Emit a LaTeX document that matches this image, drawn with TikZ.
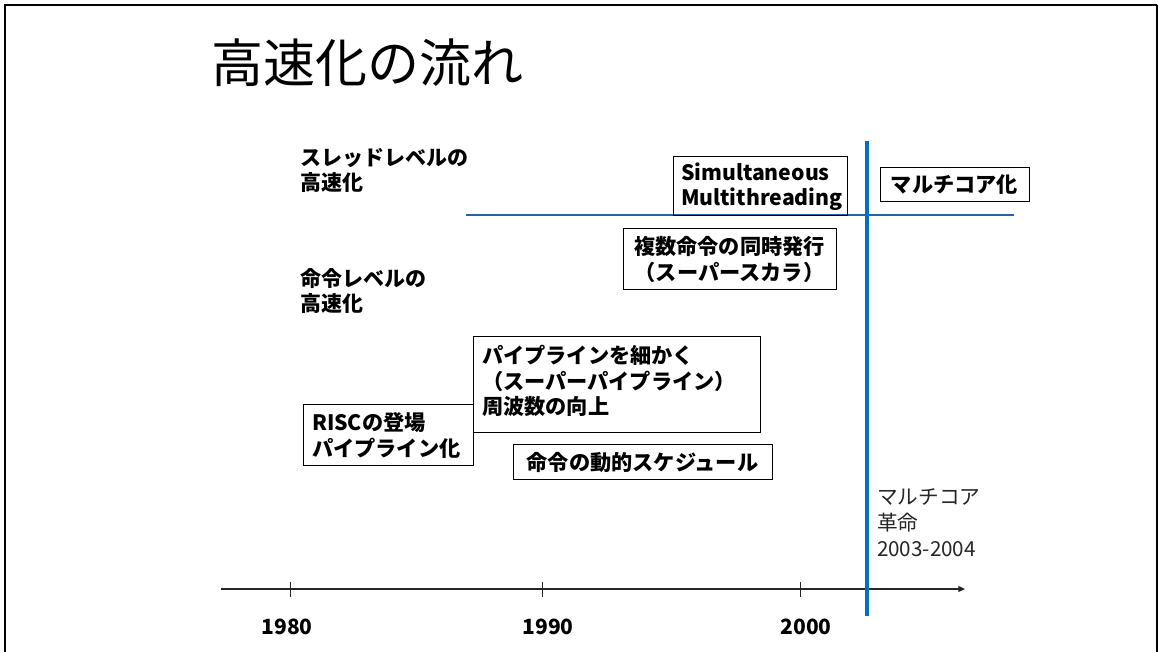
\documentclass[tikz,border=0pt]{standalone}
\usepackage{fontspec}
\setmainfont{Noto Sans CJK JP}
\usetikzlibrary{arrows.meta}
\definecolor{vblue}{RGB}{0,112,192}
\definecolor{hblue}{RGB}{38,96,176}
\definecolor{txtgray}{RGB}{38,38,38}
\newcommand{\boxfont}{\fontsize{15.9}{19}\selectfont\bfseries}
\newcommand{\labfont}{\fontsize{15.75}{18.75}\selectfont\bfseries}
\newcommand{\notefont}{\fontsize{15.5}{19.5}\selectfont}
\newcommand{\titlefont}{\fontsize{39}{46}\selectfont}
\tikzset{
  every node/.style={inner sep=0pt, outer sep=0pt},
  tbox/.style={draw, line width=0.75pt, font=\boxfont, align=left},
  cbox/.style={draw, line width=0.75pt, font=\boxfont, align=center},
  lvl/.style={font=\labfont, align=left, anchor=west},
  yearlab/.style={font=\labfont},
  axisline/.style={line width=0.9pt, draw=black!85},
  tickline/.style={line width=0.6pt, draw=black!85},
}
\begin{document}
\begin{tikzpicture}[x=0.75pt, y=-0.75pt]
\useasboundingbox (0,0) rectangle (1158,652);
% frame
\coordinate (fbl) at (5,652);
\coordinate (ftl) at (5,5);
\coordinate (ftr) at (1157,5);
\coordinate (fbr) at (1157,652);
\draw[line width=1.8pt] (fbl) -- (ftl) -- (ftr);
\draw[line width=0.9pt] (ftr) -- (fbr);
% title
\node[font=\titlefont, anchor=base west] (title) at (211,83) {高速化の流れ};
% level labels
\node[lvl] (thread) at (300,170) {スレッドレベルの\\高速化};
\node[lvl] (inst) at (300,291.5) {命令レベルの\\高速化};
% separator line
\coordinate (h0) at (466,215);
\coordinate (h1) at (1014,215);
\draw[hblue, line width=1.1pt] (h0) -- (h1);
% boxes
\node[tbox, inner xsep=6pt, text width=118.5pt, minimum height=44.25pt] (smt) at (760,186.5) {Simultaneous\\Multithreading};
\node[cbox, minimum width=111.75pt, minimum height=25.5pt] (mc) at (954.5,185) {マルチコア化};
\node[cbox, minimum width=159.75pt, minimum height=45.75pt] (ss) at (729.5,259.5) {複数命令の同時発行\\（スーパースカラ）};
\node[tbox, inner xsep=6.75pt, text width=201.75pt, minimum height=72pt] (sp) at (616.5,385) {パイプラインを細かく\\（スーパーパイプライン）\\周波数の向上\\[-11.5pt]\mbox{}};
\node[tbox, inner xsep=6.75pt, text width=114pt, minimum height=45.75pt] (risc) at (388,435.5) {RISCの登場\\パイプライン化};
\node[cbox, minimum width=194.25pt, minimum height=26.25pt] (dyn) at (642.5,462.5) {命令の動的スケジュール};
% axis
\coordinate (ax0) at (221,589);
\coordinate (ax1) at (965,589);
\draw[axisline, -{Triangle[length=5pt, width=4.5pt]}] (ax0) -- (ax1);
\foreach \t/\x in {a/290, b/542, c/800}{
  \coordinate (t\t0) at (\x,582);
  \coordinate (t\t1) at (\x,597);
  \draw[tickline] (t\t0) -- (t\t1);
}
\node[yearlab] (y1980) at (287,627) {1980};
\node[yearlab] (y1990) at (548,627) {1990};
\node[yearlab] (y2000) at (806,627) {2000};
% multicore vertical line
\coordinate (v0) at (867,141);
\coordinate (v1) at (867,616);
\draw[vblue, line width=3pt] (v0) -- (v1);
\node[font=\notefont, text=txtgray, align=left, anchor=west] (rev) at (877,523) {マルチコア\\革命\\2003-2004};
\end{tikzpicture}
\end{document}
